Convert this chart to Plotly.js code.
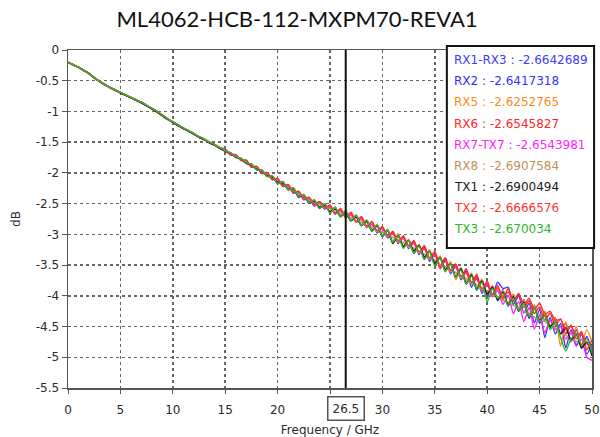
<!DOCTYPE html>
<html>
<head>
<meta charset="utf-8">
<script src="https://cdn.plot.ly/plotly-3.0.1.min.js"></script>
<style>html,body{margin:0;padding:0;background:#fff;}#chart{width:600px;height:437px;}</style>
</head>
<body>
<div id="chart"></div>
<script>
// Frequency axis (GHz), 0.5 GHz steps 0..50
const freq = [0,0.5,1,1.5,2,2.5,3,3.5,4,4.5,5,5.5,6,6.5,7,7.5,8,8.5,9,9.5,10,10.5,11,11.5,12,12.5,13,13.5,14,14.5,15,15.5,16,16.5,17,17.5,18,18.5,19,19.5,20,20.5,21,21.5,22,22.5,23,23.5,24,24.5,25,25.5,26,26.5,27,27.5,28,28.5,29,29.5,30,30.5,31,31.5,32,32.5,33,33.5,34,34.5,35,35.5,36,36.5,37,37.5,38,38.5,39,39.5,40,40.5,41,41.5,42,42.5,43,43.5,44,44.5,45,45.5,46,46.5,47,47.5,48,48.5,49,49.5,50];

const rx1rx3 = [-0.20,-0.24,-0.28,-0.33,-0.38,-0.45,-0.51,-0.56,-0.61,-0.65,
-0.69,-0.73,-0.77,-0.81,-0.86,-0.91,-0.95,-1.00,-1.07,-1.12,
-1.17,-1.22,-1.27,-1.32,-1.36,-1.41,-1.46,-1.50,-1.55,-1.59,
-1.62,-1.70,-1.71,-1.79,-1.80,-1.90,-1.90,-2.01,-2.00,-2.11,
-2.09,-2.22,-2.19,-2.33,-2.30,-2.44,-2.40,-2.54,-2.47,-2.59,
-2.53,-2.67,-2.59,-2.73,-2.65,-2.80,-2.72,-2.89,-2.80,-2.98,
-2.88,-3.06,-2.97,-3.15,-3.04,-3.23,-3.12,-3.33,-3.21,-3.44,
-3.30,-3.54,-3.40,-3.64,-3.49,-3.74,-3.59,-3.86,-3.68,-3.96,
-3.80,-3.98,-3.78,-3.88,-3.86,-4.14,-4.00,-4.28,-4.12,-4.44,
-4.22,-4.68,-4.35,-4.62,-4.45,-4.85,-4.55,-4.80,-4.62,-4.95,
-4.78];
const rx2 = [-0.20,-0.24,-0.28,-0.33,-0.39,-0.45,-0.51,-0.56,-0.61,-0.65,
-0.70,-0.73,-0.77,-0.82,-0.85,-0.90,-0.96,-1.00,-1.06,-1.13,
-1.17,-1.22,-1.28,-1.31,-1.37,-1.41,-1.45,-1.51,-1.54,-1.60,
-1.65,-1.67,-1.75,-1.76,-1.85,-1.85,-1.95,-1.95,-2.06,-2.05,
-2.18,-2.14,-2.28,-2.24,-2.40,-2.35,-2.50,-2.44,-2.58,-2.50,
-2.64,-2.56,-2.71,-2.62,-2.78,-2.69,-2.86,-2.77,-2.95,-2.84,
-3.04,-2.92,-3.13,-3.01,-3.21,-3.09,-3.31,-3.17,-3.41,-3.27,
-3.50,-3.36,-3.60,-3.46,-3.70,-3.56,-3.80,-3.64,-3.91,-3.75,
-4.00,-3.84,-4.08,-3.90,-4.17,-3.98,-4.25,-4.06,-4.37,-4.16,
-4.45,-4.26,-4.52,-4.36,-4.62,-4.44,-4.75,-4.55,-4.85,-4.66,
-4.90];
const rx5 = [-0.20,-0.24,-0.29,-0.33,-0.38,-0.45,-0.50,-0.56,-0.61,-0.66,
-0.69,-0.73,-0.78,-0.81,-0.85,-0.90,-0.95,-1.01,-1.06,-1.12,
-1.18,-1.22,-1.27,-1.31,-1.36,-1.42,-1.45,-1.50,-1.54,-1.59,
-1.64,-1.67,-1.74,-1.76,-1.84,-1.86,-1.94,-1.96,-2.05,-2.06,
-2.15,-2.15,-2.26,-2.24,-2.37,-2.35,-2.47,-2.44,-2.55,-2.50,
-2.62,-2.56,-2.69,-2.61,-2.76,-2.69,-2.84,-2.76,-2.92,-2.84,
-3.01,-2.92,-3.11,-2.99,-3.19,-3.08,-3.27,-3.16,-3.38,-3.25,
-3.47,-3.35,-3.60,-3.44,-3.74,-3.54,-3.76,-3.63,-3.87,-3.73,
-3.97,-3.83,-4.06,-3.91,-4.14,-3.97,-4.22,-4.07,-4.32,-4.15,
-4.40,-4.25,-4.50,-4.35,-4.82,-4.42,-4.75,-4.50,-4.80,-4.55,
-4.75];
const rx6 = [-0.20,-0.25,-0.28,-0.34,-0.38,-0.46,-0.51,-0.57,-0.61,-0.66,
-0.69,-0.74,-0.77,-0.82,-0.85,-0.91,-0.95,-1.01,-1.06,-1.12,
-1.17,-1.23,-1.27,-1.32,-1.36,-1.42,-1.45,-1.51,-1.54,-1.60,
-1.62,-1.71,-1.71,-1.80,-1.80,-1.91,-1.90,-2.00,-2.00,-2.11,
-2.09,-2.22,-2.19,-2.32,-2.30,-2.43,-2.40,-2.53,-2.47,-2.58,
-2.52,-2.67,-2.58,-2.73,-2.64,-2.80,-2.71,-2.88,-2.79,-2.96,
-2.87,-3.04,-2.95,-3.13,-3.02,-3.21,-3.10,-3.31,-3.18,-3.40,
-3.28,-3.51,-3.38,-3.60,-3.48,-3.70,-3.56,-3.81,-3.65,-3.92,
-3.76,-4.01,-3.83,-4.06,-3.88,-4.09,-3.96,-4.19,-4.08,-4.29,
-4.18,-4.40,-4.28,-4.48,-4.38,-4.62,-4.48,-4.70,-4.58,-4.88,
-4.72];
const rx7tx7 = [-0.20,-0.24,-0.28,-0.33,-0.38,-0.45,-0.51,-0.56,-0.62,-0.65,
-0.69,-0.73,-0.77,-0.81,-0.86,-0.90,-0.95,-1.00,-1.06,-1.12,
-1.17,-1.23,-1.27,-1.32,-1.37,-1.41,-1.46,-1.51,-1.55,-1.60,
-1.63,-1.70,-1.71,-1.79,-1.81,-1.89,-1.91,-1.99,-2.01,-2.10,
-2.11,-2.20,-2.21,-2.30,-2.32,-2.42,-2.42,-2.52,-2.49,-2.59,
-2.55,-2.65,-2.62,-2.72,-2.69,-2.79,-2.76,-2.88,-2.84,-2.96,
-2.91,-3.04,-2.99,-3.13,-3.07,-3.21,-3.15,-3.31,-3.24,-3.40,
-3.34,-3.50,-3.44,-3.60,-3.54,-3.70,-3.63,-3.80,-3.73,-3.90,
-3.83,-4.02,-3.91,-4.14,-3.99,-4.29,-4.09,-4.42,-4.19,-4.54,
-4.32,-4.60,-4.40,-4.55,-4.50,-4.70,-4.60,-4.82,-4.70,-5.00,
-5.05];
const rx8 = [-0.21,-0.24,-0.28,-0.33,-0.38,-0.45,-0.51,-0.56,-0.61,-0.65,
-0.69,-0.73,-0.77,-0.81,-0.85,-0.90,-0.95,-1.00,-1.06,-1.12,
-1.17,-1.22,-1.27,-1.31,-1.36,-1.41,-1.45,-1.50,-1.54,-1.59,
-1.63,-1.69,-1.73,-1.78,-1.82,-1.88,-1.92,-1.98,-2.03,-2.08,
-2.13,-2.19,-2.23,-2.29,-2.34,-2.40,-2.44,-2.49,-2.51,-2.56,
-2.58,-2.64,-2.66,-2.71,-2.73,-2.79,-2.80,-2.87,-2.88,-2.95,
-2.96,-3.03,-3.05,-3.12,-3.13,-3.21,-3.22,-3.30,-3.32,-3.40,
-3.42,-3.50,-3.52,-3.60,-3.62,-3.70,-3.72,-3.80,-3.82,-3.90,
-3.92,-3.99,-4.01,-4.08,-4.10,-4.16,-4.18,-4.26,-4.28,-4.35,
-4.38,-4.42,-4.48,-4.52,-4.60,-4.64,-4.70,-4.74,-4.80,-4.84,
-4.88];
const tx1 = [-0.20,-0.24,-0.28,-0.33,-0.38,-0.45,-0.51,-0.56,-0.61,-0.65,
-0.70,-0.74,-0.78,-0.82,-0.86,-0.91,-0.96,-1.01,-1.07,-1.13,
-1.18,-1.23,-1.28,-1.32,-1.37,-1.42,-1.46,-1.51,-1.55,-1.60,
-1.64,-1.69,-1.74,-1.78,-1.84,-1.88,-1.94,-1.98,-2.05,-2.07,
-2.15,-2.17,-2.26,-2.26,-2.38,-2.37,-2.48,-2.46,-2.56,-2.53,
-2.63,-2.59,-2.71,-2.65,-2.78,-2.72,-2.86,-2.79,-2.94,-2.86,
-3.03,-2.94,-3.15,-3.02,-3.20,-3.10,-3.27,-3.18,-3.37,-3.28,
-3.47,-3.38,-3.57,-3.48,-3.69,-3.56,-3.81,-3.66,-3.89,-3.76,
-3.97,-3.86,-4.07,-3.94,-4.15,-4.02,-4.25,-4.10,-4.35,-4.20,
-4.40,-4.32,-4.50,-4.42,-4.62,-4.52,-4.72,-4.62,-4.85,-4.75,
-4.98];
const tx2 = [-0.20,-0.24,-0.28,-0.33,-0.38,-0.45,-0.51,-0.56,-0.61,-0.65,
-0.69,-0.73,-0.77,-0.81,-0.85,-0.90,-0.95,-1.00,-1.06,-1.12,
-1.17,-1.22,-1.27,-1.31,-1.36,-1.41,-1.45,-1.50,-1.54,-1.59,
-1.61,-1.70,-1.70,-1.79,-1.79,-1.90,-1.89,-2.00,-1.99,-2.10,
-2.09,-2.21,-2.19,-2.31,-2.30,-2.41,-2.40,-2.50,-2.47,-2.56,
-2.53,-2.65,-2.60,-2.71,-2.66,-2.79,-2.73,-2.86,-2.81,-2.94,
-2.89,-3.02,-2.97,-3.10,-3.05,-3.18,-3.13,-3.28,-3.23,-3.38,
-3.31,-3.56,-3.43,-3.58,-3.53,-3.68,-3.62,-3.78,-3.72,-3.88,
-3.81,-3.98,-3.87,-4.02,-3.94,-4.08,-3.97,-4.14,-4.04,-4.22,
-4.12,-4.30,-4.25,-4.40,-4.38,-4.55,-4.50,-4.65,-4.62,-4.78,
-4.85];
const tx3 = [-0.20,-0.24,-0.28,-0.33,-0.38,-0.45,-0.51,-0.56,-0.61,-0.65,
-0.69,-0.73,-0.77,-0.81,-0.85,-0.90,-0.95,-1.00,-1.06,-1.12,
-1.17,-1.22,-1.27,-1.31,-1.36,-1.41,-1.45,-1.50,-1.54,-1.59,
-1.64,-1.67,-1.74,-1.76,-1.84,-1.86,-1.95,-1.96,-2.06,-2.05,
-2.17,-2.15,-2.27,-2.25,-2.38,-2.36,-2.49,-2.44,-2.58,-2.50,
-2.66,-2.56,-2.72,-2.62,-2.78,-2.69,-2.86,-2.77,-2.94,-2.85,
-3.03,-2.93,-3.13,-3.02,-3.23,-3.10,-3.31,-3.19,-3.41,-3.28,
-3.51,-3.38,-3.61,-3.48,-3.70,-3.58,-3.81,-3.68,-3.90,-3.78,
-4.10,-3.88,-4.04,-3.96,-4.16,-4.04,-4.24,-4.12,-4.34,-4.20,
-4.42,-4.32,-4.55,-4.42,-4.68,-4.90,-4.70,-4.62,-4.80,-4.70,
-4.92];

const seriesNames = ['RX1-RX3','RX2','RX5','RX6','RX7-TX7','RX8','TX1','TX2','TX3'];
const seriesData = [rx1rx3, rx2, rx5, rx6, rx7tx7, rx8, tx1, tx2, tx3];
const markerValues = ['-2.6642689','-2.6417318','-2.6252765','-2.6545827','-2.6543981','-2.6907584','-2.6900494','-2.6666576','-2.670034'];
const seriesColors = ['#3c3cff','#3030ff','#ff8a20','#ff2626','#ff22ff','#c0925c','#1a1a1a','#ff3232','#2cb82c'];

const markerFreq = 26.5;
const xTickVals = [0,5,10,15,20,25,30,35,40,45,50];
// the "25" label is hidden behind the 26.5 marker box in the reference
const xTickLabels = ['0','5','10','15','20','','30','35','40','45','50'];
const yTickVals = [0,-0.5,-1,-1.5,-2,-2.5,-3,-3.5,-4,-4.5,-5,-5.5];
const yTickLabels = ['0','-0.5','-1','-1.5','-2','-2.5','-3','-3.5','-4','-4.5','-5','-5.5'];

const FONT = 'DejaVu Sans, sans-serif';
const tickFont = {family:FONT, size:12, color:'#2a2a2a'};

const traces = seriesData.map((d,i)=>({
  x: freq, y: d, type:'scatter', mode:'lines', name: seriesNames[i],
  line:{color: seriesColors[i], width:1.4, shape:'spline', smoothing:0.6},
  hoverinfo:'skip'
}));

const annotations = seriesNames.map((n,i)=>({
  xref:'paper', yref:'paper',
  x: 0.732, y: 1.0 - i*0.0625 - 0.03,
  xanchor:'left', yanchor:'middle', showarrow:false,
  text: n + ' : ' + markerValues[i],
  font:{family:FONT, size:12, color: seriesColors[i]}
}));
annotations.push({
  xref:'x', yref:'paper', x: markerFreq, y: -0.062,
  xanchor:'center', yanchor:'middle', showarrow:false,
  text: String(markerFreq), bgcolor:'#fff', bordercolor:'#555', borderwidth:1.5, borderpad:4,
  font: tickFont
});

const layout = {
  width:600, height:437,
  margin:{l:68, r:8, t:50, b:49},
  paper_bgcolor:'#fff', plot_bgcolor:'#fff',
  showlegend:false,
  title:{text:'ML4062-HCB-112-MXPM70-REVA1', x:0.495, xanchor:'center', y:0.955, yanchor:'middle',
         font:{family:'Lato, Open Sans, sans-serif', size:22, color:'#111'}},
  xaxis:{range:[0,50], tickvals:xTickVals, ticktext:xTickLabels, showgrid:true, gridcolor:'#666', gridwidth:1.5, griddash:'3px,3px',
         showline:true, linecolor:'#555', linewidth:1.5, mirror:true, ticks:'outside', ticklen:4, tickcolor:'#555',
         ticklabelstandoff:6, tickfont:tickFont, zeroline:false,
         title:{text:'Frequency / GHz', font:{family:FONT, size:12, color:'#2a2a2a'}, standoff:9}},
  yaxis:{range:[-5.5,0], tickvals:yTickVals, ticktext:yTickLabels, showgrid:true, gridcolor:'#666', gridwidth:1.5, griddash:'3px,3px',
         showline:true, linecolor:'#555', linewidth:1.5, mirror:true, ticks:'outside', ticklen:5, tickcolor:'#555',
         tickfont:tickFont, zeroline:false,
         title:{text:'dB', font:{family:FONT, size:12, color:'#2a2a2a'}, standoff:12}},
  shapes:[
    {type:'line', xref:'x', yref:'paper', x0:markerFreq, x1:markerFreq, y0:0, y1:1, line:{color:'#111', width:2}},
    {type:'rect', xref:'paper', yref:'paper', x0:0.723, x1:1.004, y0:0.414, y1:1.012, line:{color:'#111', width:2}, fillcolor:'#fff', layer:'above'}
  ],
  annotations: annotations
};

Plotly.newPlot('chart', traces, layout, {displayModeBar:false, staticPlot:true});
</script>
</body>
</html>
